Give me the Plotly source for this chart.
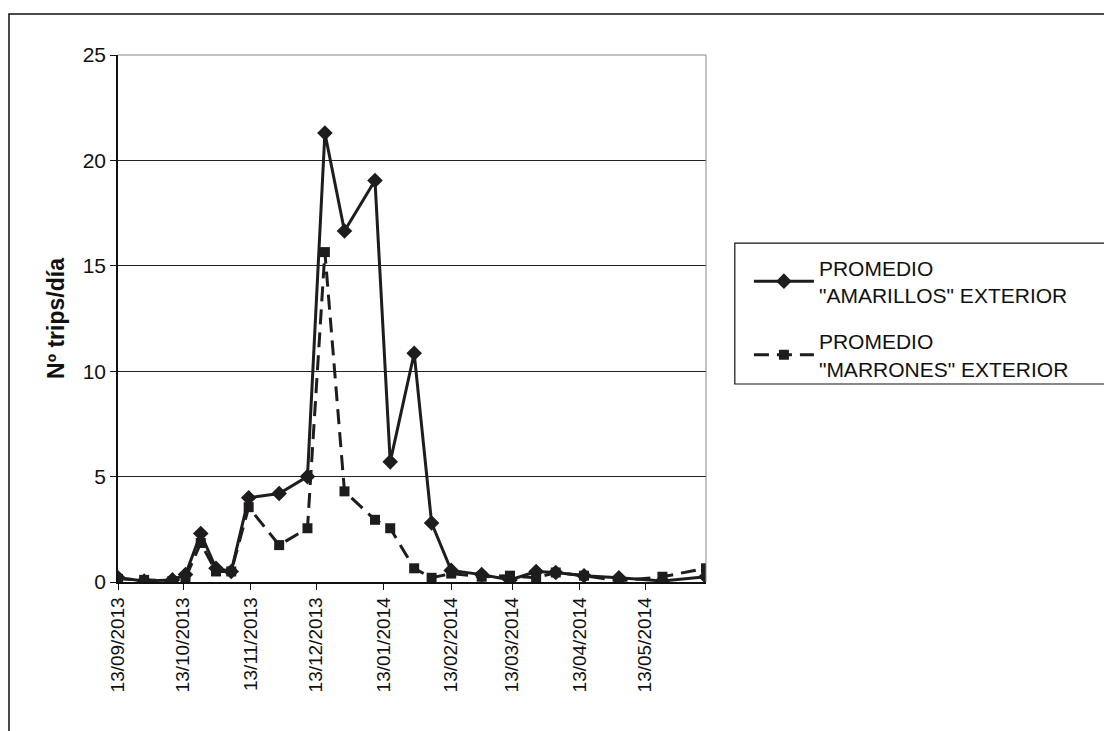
import plotly.graph_objects as go

fechas = ["2013-09-13", "2013-09-25", "2013-10-08", "2013-10-14", "2013-10-21",
          "2013-10-28", "2013-11-04", "2013-11-12", "2013-11-26", "2013-12-09",
          "2013-12-17", "2013-12-26", "2014-01-09", "2014-01-16", "2014-01-27",
          "2014-02-04", "2014-02-13", "2014-02-27", "2014-03-12", "2014-03-24",
          "2014-04-02", "2014-04-15", "2014-05-01", "2014-05-21", "2014-06-10"]

amarillos = [0.2, 0.05, 0.1, 0.35, 2.3, 0.65, 0.5, 4.0, 4.2, 5.0,
             21.3, 16.65, 19.05, 5.7, 10.85, 2.8, 0.55, 0.35, 0.1, 0.5,
             0.45, 0.3, 0.2, 0.05, 0.25]

marrones = [0.15, 0.1, 0.05, 0.2, 1.85, 0.5, 0.5, 3.55, 1.75, 2.55,
            15.65, 4.3, 2.95, 2.55, 0.65, 0.2, 0.4, 0.25, 0.3, 0.2,
            0.45, 0.3, 0.05, 0.25, 0.65]

tick_fechas = ["2013-09-13", "2013-10-13", "2013-11-13", "2013-12-13", "2014-01-13",
               "2014-02-13", "2014-03-13", "2014-04-13", "2014-05-13"]
tick_textos = ["13/09/2013", "13/10/2013", "13/11/2013", "13/12/2013", "13/01/2014",
               "13/02/2014", "13/03/2014", "13/04/2014", "13/05/2014"]

negro = "#1e1c1d"

fig = go.Figure()
fig.add_trace(go.Scatter(
    x=fechas, y=amarillos, mode="lines+markers",
    name='PROMEDIO<br>"AMARILLOS" EXTERIOR', legendgroup="a",
    line=dict(color=negro, width=3),
    marker=dict(symbol="diamond", size=12, color=negro)))
fig.add_trace(go.Scatter(
    x=fechas, y=marrones, mode="lines+markers",
    name='PROMEDIO<br>"MARRONES" EXTERIOR', legendgroup="m",
    line=dict(color=negro, width=3, dash="15px,8px"),
    marker=dict(symbol="square", size=10, color=negro)))

# plot area is 588 x 527 px; page body adds an 8 px offset
fig.update_layout(
    width=1104, height=723,
    margin=dict(l=110, r=406, t=47, b=149),
    paper_bgcolor="white", plot_bgcolor="white",
    font=dict(family="Liberation Sans, Arial", size=21, color="#111"),
    showlegend=True,
    legend=dict(x=1.073, y=0.635, xanchor="left", yanchor="top",
                borderwidth=0, bgcolor="rgba(0,0,0,0)",
                font=dict(size=21), itemwidth=60,
                traceorder="grouped", tracegroupgap=16),
    shapes=[
        # outer chart border
        dict(type="rect", xref="paper", yref="paper",
             x0=-0.1854, x1=1.75, y0=-0.40, y1=1.0778,
             line=dict(color="#111", width=1.5), layer="below"),
        # gray plot-area border on top and right
        dict(type="path", xref="paper", yref="paper",
             path="M 0 1 L 1 1 L 1 0", line=dict(color="#888", width=1)),
        # legend box
        dict(type="rect", xref="paper", yref="paper",
             x0=1.049, x1=1.75, y0=0.3757, y1=0.643,
             line=dict(color="#111", width=1.2)),
    ],
)

fig.update_xaxes(
    type="date", range=["2013-09-13", "2014-06-10"],
    tickvals=tick_fechas, ticktext=tick_textos, tickangle=-90,
    ticks="outside", ticklen=6, tickcolor="#111",
    showline=True, linecolor="#111", linewidth=1.5,
    showgrid=False, zeroline=False,
    tickfont=dict(size=19))

fig.update_yaxes(
    range=[0, 25], dtick=5,
    ticks="outside", ticklen=6, tickcolor="#111",
    showline=True, linecolor="#111", linewidth=1.5,
    showgrid=True, gridcolor="#222", gridwidth=1.2,
    zeroline=False, tickfont=dict(size=21),
    title=dict(text="<b>Nº trips/día</b>", font=dict(size=23), standoff=12))

fig.write_html("out.html")
